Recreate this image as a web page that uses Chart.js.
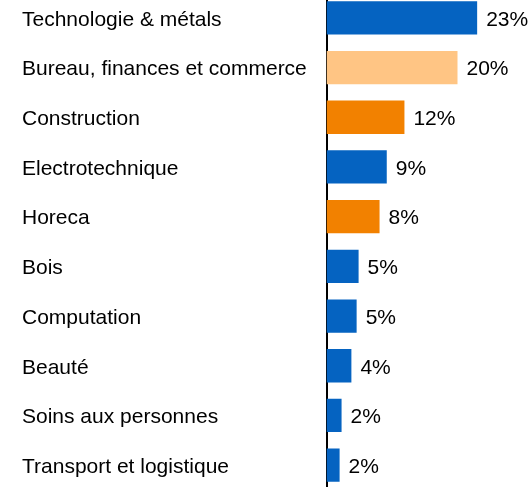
<!DOCTYPE html>
<html>
<head>
<meta charset="utf-8">
<script src="https://cdn.jsdelivr.net/npm/chart.js@4/dist/chart.umd.min.js"></script>
<style>
  html, body { margin: 0; padding: 0; background: #fff; overflow: hidden; }
  #wrap { position: absolute; left: 0; top: -7px; width: 531px; height: 497px; }
</style>
</head>
<body>
<div id="wrap"><canvas id="barChart" width="531" height="497"></canvas></div>
<script>
// categories and values (percent)
var sectors = ['Technologie & métals', 'Bureau, finances et commerce', 'Construction',
  'Electrotechnique', 'Horeca', 'Bois', 'Computation', 'Beauté',
  'Soins aux personnes', 'Transport et logistique'];
var shares = [23, 20, 11.9, 9.2, 8.1, 4.9, 4.6, 3.8, 2.3, 2.0];
var shareLabels = ['23%', '20%', '12%', '9%', '8%', '5%', '5%', '4%', '2%', '2%'];
var barColours = ['#0563C1', '#FFC584', '#F28100', '#0563C1', '#F28100',
  '#0563C1', '#0563C1', '#0563C1', '#0563C1', '#0563C1'];

var font = '"Liberation Sans", Arial, sans-serif';

// draws the % next to each bar
var valueLabels = {
  id: 'valueLabels',
  afterDatasetsDraw: function(chart) {
    var ctx = chart.ctx;
    var meta = chart.getDatasetMeta(0);
    ctx.save();
    ctx.font = '21px ' + font;
    ctx.fillStyle = '#000';
    ctx.textBaseline = 'middle';
    ctx.textAlign = 'left';
    meta.data.forEach(function(bar, i) {
      ctx.fillText(shareLabels[i], bar.x + 9, bar.y + 2);
    });
    ctx.restore();
  }
};

new Chart(document.getElementById('barChart'), {
  type: 'bar',
  data: {
    labels: sectors,
    datasets: [{
      data: shares,
      backgroundColor: barColours,
      barPercentage: 0.67,
      categoryPercentage: 1
    }]
  },
  options: {
    indexAxis: 'y',
    responsive: false,
    animation: false,
    layout: { padding: { left: 22, right: 8, top: 0, bottom: 0 } },
    plugins: { legend: { display: false }, tooltip: { enabled: false } },
    scales: {
      x: { display: false, min: 0, max: 30 },
      y: {
        grid: { display: false, drawTicks: false },
        border: { display: true, color: '#000', width: 2 },
        ticks: {
          crossAlign: 'far',
          color: '#000',
          padding: 0,
          labelOffset: 2,
          font: { family: font, size: 21 }
        },
        afterFit: function(scale) {
          scale.width = 304.5;
          scale.paddingTop = 0;
          scale.paddingBottom = 0;
        }
      }
    }
  },
  plugins: [valueLabels]
});
</script>
</body>
</html>
